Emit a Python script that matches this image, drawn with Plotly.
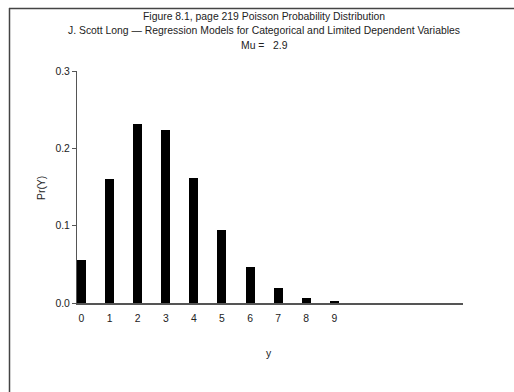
import plotly.graph_objects as go

y_values = [0, 1, 2, 3, 4, 5, 6, 7, 8, 9]
probabilities = [0.055, 0.160, 0.231, 0.224, 0.162, 0.094, 0.046, 0.019, 0.007, 0.002]
y_ticks = [0.0, 0.1, 0.2, 0.3]
titles = [
    "Figure 8.1, page 219 Poisson Probability Distribution",
    "J. Scott Long \u2014 Regression Models for Categorical and Limited Dependent Variables",
    "Mu =&nbsp;&nbsp;&nbsp;2.9",
]

W, H = 514, 392
L, R, T, B = 77, 51, 71, 89
pw, ph = W - L - R, H - T - B

def px_x(x):
    return (x - L) / pw

def px_y(y):
    return (H - B - y) / ph

font = dict(family="Liberation Sans, Arial, sans-serif", size=10.4, color="#222")

fig = go.Figure(go.Bar(x=y_values, y=probabilities, width=0.32,
                       marker=dict(color="black", line=dict(width=0))))

annotations = []
for i, t in enumerate(titles):
    annotations.append(dict(text=t, x=px_x(264), y=px_y(16 + 14.5 * i), xref="paper", yref="paper",
                            xanchor="center", yanchor="middle", showarrow=False, font=font))
annotations.append(dict(text="Pr(Y)", x=px_x(41), y=px_y(188), xref="paper", yref="paper",
                        textangle=-90, xanchor="center", yanchor="middle", showarrow=False, font=font))
annotations.append(dict(text="y", x=px_x(269), y=px_y(353), xref="paper", yref="paper",
                        xanchor="center", yanchor="middle", showarrow=False, font=font))

shapes = [
    dict(type="line", xref="paper", yref="paper", x0=px_x(9), x1=px_x(520), y0=px_y(8.5), y1=px_y(8.5),
         line=dict(color="#444", width=1.5)),
    dict(type="line", xref="paper", yref="paper", x0=px_x(9.5), x1=px_x(9.5), y0=px_y(8), y1=px_y(400),
         line=dict(color="#444", width=1.5)),
]

fig.update_layout(
    width=W, height=H,
    margin=dict(l=L, r=R, t=T, b=B),
    paper_bgcolor="white", plot_bgcolor="white",
    showlegend=False,
    font=font,
    annotations=annotations,
    shapes=shapes,
    bargap=0,
    xaxis=dict(range=[-0.16, 13.58], tickvals=y_values, ticktext=[str(v) for v in y_values],
               showline=True, linecolor="#555", linewidth=1.5, ticks="outside", ticklen=5,
               tickcolor="rgba(0,0,0,0)", showgrid=False, zeroline=False, tickfont=font),
    yaxis=dict(range=[0, 0.3], tickvals=y_ticks, tickformat=".1f", showline=True, linecolor="#555",
               linewidth=1, ticks="outside", ticklen=4, tickcolor="#555", showgrid=False,
               zeroline=False, tickfont=font),
)

fig.write_html("out.html")
